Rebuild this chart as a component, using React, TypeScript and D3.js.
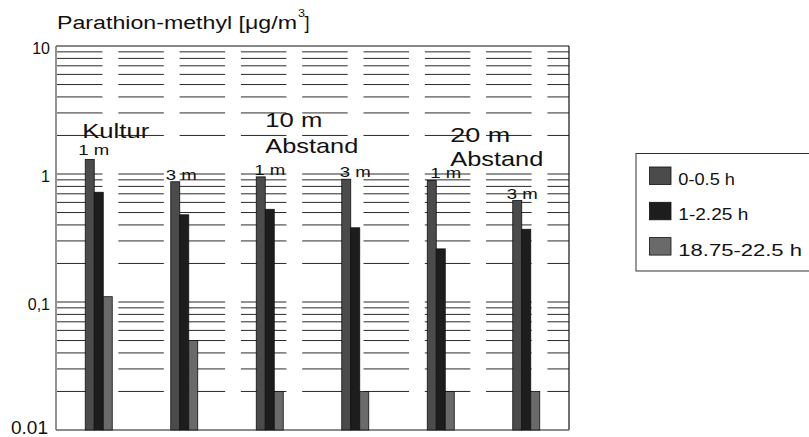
import React, { useEffect, useRef } from "react";
import * as d3 from "d3";

// values (log scale, µg/m³)
const groups = ["Kultur 1 m", "Kultur 3 m", "10 m 1 m", "10 m 3 m", "20 m 1 m", "20 m 3 m"];
const heightLabels = ["1 m", "3 m", "1 m", "3 m", "1 m", "3 m"];
const seriesNames = ["0-0.5 h", "1-2.25 h", "18.75-22.5 h"];
const seriesEarly = [1.3, 0.87, 0.95, 0.91, 0.89, 0.62];
const seriesMid = [0.72, 0.48, 0.53, 0.38, 0.26, 0.37];
const seriesLate = [0.11, 0.05, 0.02, 0.02, 0.02, 0.02];
const yTicks = [10, 1, 0.1, 0.01];
const yTickLabels = ["10", "1", "0,1", "0.01"];

const colors = ["#4b4b4b", "#1d1d1d", "#6a6a6a"];

const W = 809;
const H = 437;
const margin = { left: 56, right: 569, top: 46, bottom: 430 };
const FONT = "'Liberation Sans', Arial, Helvetica, sans-serif";

const App = () => {
  const ref = useRef<SVGSVGElement | null>(null);

  useEffect(() => {
    const svg = d3.select(ref.current);
    svg.selectAll("*").remove();

    const values = [seriesEarly, seriesMid, seriesLate];
    const rows = groups.map((g, i) => ({
      group: g,
      label: heightLabels[i],
      vals: values.map((s, j) => ({ key: seriesNames[j], v: s[i], j })),
    }));

    const y = d3.scaleLog().domain([0.01, 10]).range([margin.bottom, margin.top]);
    const p = 1 - 27 / 85.5;
    const x0 = d3
      .scaleBand()
      .domain(groups)
      .range([margin.left, margin.right])
      .paddingInner(p)
      .paddingOuter(p / 2);
    const x1 = d3.scaleBand().domain(seriesNames).range([0, x0.bandwidth()]);

    // dashed grid lines on every minor log step
    const gridVals: number[] = [];
    [0.01, 0.1, 1].forEach((d) => {
      for (let k = 1; k <= 9; k++) {
        const v = +(k * d).toPrecision(3);
        if (v > 0.01) gridVals.push(v);
      }
    });
    svg
      .append("g")
      .selectAll("line")
      .data(gridVals)
      .enter()
      .append("line")
      .attr("x1", margin.left + 1)
      .attr("x2", margin.right)
      .attr("y1", (d) => y(d))
      .attr("y2", (d) => y(d))
      .attr("stroke", "#2a2a2a")
      .attr("stroke-width", 1)
      .attr("stroke-dasharray", "45.5 15.8");

    // frame
    const f = svg.append("g").attr("fill", "none");
    f.append("line").attr("x1", margin.left).attr("x2", margin.right).attr("y1", margin.top).attr("y2", margin.top).attr("stroke", "#111").attr("stroke-width", 1.2);
    f.append("line").attr("x1", margin.right).attr("x2", margin.right).attr("y1", margin.top).attr("y2", margin.bottom).attr("stroke", "#111").attr("stroke-width", 1.2);
    f.append("line").attr("x1", margin.left).attr("x2", margin.left).attr("y1", margin.top).attr("y2", margin.bottom).attr("stroke", "#666").attr("stroke-width", 1.4);
    f.append("line").attr("x1", margin.left).attr("x2", margin.right).attr("y1", margin.bottom).attr("y2", margin.bottom).attr("stroke", "#666").attr("stroke-width", 1.4);

    // annotation text (drawn before bars, lines cross it)
    const big = [
      { t: "Kultur", x: x0(groups[0])! - 3, y: 137.5, len: 67 },
      { t: "10 m", x: x0(groups[2])! + 9, y: 126.5, len: 57 },
      { t: "Abstand", x: x0(groups[2])! + 9, y: 152.5, len: 93 },
      { t: "20 m", x: x0(groups[4])! + 23, y: 141.5, len: 60 },
      { t: "Abstand", x: x0(groups[4])! + 23, y: 166, len: 93 },
    ];
    svg
      .append("g")
      .selectAll("text")
      .data(big)
      .enter()
      .append("text")
      .attr("x", (d) => d.x)
      .attr("y", (d) => d.y)
      .attr("textLength", (d) => d.len)
      .attr("lengthAdjust", "spacingAndGlyphs")
      .style("font-family", FONT)
      .style("font-size", "21px")
      .style("fill", "#111")
      .text((d) => d.t);

    // bars
    const g = svg
      .append("g")
      .selectAll("g")
      .data(rows)
      .enter()
      .append("g")
      .attr("transform", (d) => `translate(${x0(d.group)},0)`);
    g.selectAll("rect")
      .data((d) => d.vals)
      .enter()
      .append("rect")
      .attr("x", (d) => x1(d.key)!)
      .attr("y", (d) => y(d.v))
      .attr("width", x1.bandwidth())
      .attr("height", (d) => margin.bottom - y(d.v))
      .attr("fill", (d) => colors[d.j])
      .attr("stroke", "#111")
      .attr("stroke-width", 0.8);

    // "1 m" / "3 m" labels above the first bar
    const nudge = [-5, -3, 0, 0, 5, -4];
    svg
      .append("g")
      .selectAll("text")
      .data(rows)
      .enter()
      .append("text")
      .attr("x", (d, i) => x0(d.group)! + x0.bandwidth() / 2 + nudge[i])
      .attr("y", (d, i) => y(d.vals[0].v) - (i === 0 ? 4 : 2))
      .attr("text-anchor", "middle")
      .attr("textLength", 31)
      .attr("lengthAdjust", "spacingAndGlyphs")
      .style("font-family", FONT)
      .style("font-size", "14px")
      .style("fill", "#111")
      .text((d) => d.label);

    // y tick labels
    svg
      .append("g")
      .selectAll("text")
      .data(yTicks)
      .enter()
      .append("text")
      .attr("x", (d) => (d === 0.01 ? 48 : 50))
      .attr("y", (d) => y(d) + (d === 0.01 ? 4 : 7.5))
      .attr("text-anchor", "end")
      .style("font-family", FONT)
      .style("font-size", (d) => (d === 0.01 ? "19px" : "16px"))
      .style("fill", "#111")
      .text((d, i) => yTickLabels[i]);

    // title
    const title = svg.append("g").style("font-family", FONT).style("fill", "#111");
    title.append("text").attr("x", 57).attr("y", 29.3).attr("textLength", 240).attr("lengthAdjust", "spacingAndGlyphs").style("font-size", "18px").text("Parathion-methyl [\u03BCg/m");
    title.append("text").attr("x", 298).attr("y", 16.7).attr("textLength", 7).attr("lengthAdjust", "spacingAndGlyphs").style("font-size", "10px").text("3");
    title.append("text").attr("x", 304.5).attr("y", 29.3).style("font-size", "18px").text("]");

    // legend
    const lg = svg.append("g");
    lg.append("rect").attr("x", 636).attr("y", 153.5).attr("width", 190).attr("height", 117.5).attr("fill", "#fff").attr("stroke", "#333").attr("stroke-width", 1);
    const textLens = [56.7, 70, 123.7];
    const item = lg
      .selectAll("g.item")
      .data(seriesNames)
      .enter()
      .append("g")
      .attr("class", "item")
      .attr("transform", (d, i) => `translate(0,${i * 35.3})`);
    item
      .append("rect")
      .attr("x", 649.5)
      .attr("y", 167)
      .attr("width", 21.5)
      .attr("height", 17.5)
      .attr("fill", (d, i) => colors[i])
      .attr("stroke", "#111")
      .attr("stroke-width", 0.8);
    item
      .append("text")
      .attr("x", 678.3)
      .attr("y", 185)
      .attr("textLength", (d, i) => textLens[i])
      .attr("lengthAdjust", "spacingAndGlyphs")
      .style("font-family", FONT)
      .style("font-size", "16px")
      .style("fill", "#111")
      .text((d) => d);
  }, []);

  return (
    <svg
      ref={ref}
      width={W}
      height={H}
      style={{ position: "absolute", left: 0, top: 0, background: "#fff" }}
    />
  );
};

export default App;
